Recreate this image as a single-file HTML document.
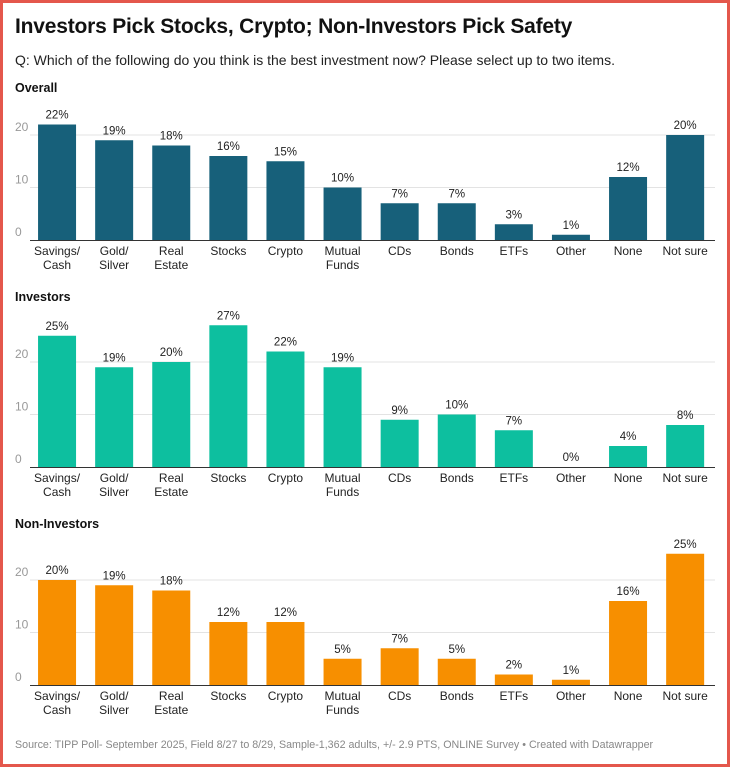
<!DOCTYPE html>
<html><head><meta charset="utf-8"><style>
body{margin:0;background:#fff;font-family:"Liberation Sans",Arial,sans-serif}
#frame{position:absolute;left:0;top:0;width:724px;height:761px;border:3px solid #e4574c;background:#fff}
.t{position:absolute;white-space:nowrap}
</style></head><body>
<div id="frame"></div>
<div class="t" style="left:15px;top:15px;font-size:21px;font-weight:bold;color:#111;letter-spacing:-0.2px">Investors Pick Stocks, Crypto; Non-Investors Pick Safety</div>
<div class="t" style="left:15px;top:52px;font-size:14px;color:#222">Q: Which of the following do you think is the best investment now? Please select up to two items.</div>
<div class="t" style="left:15px;top:739px;font-size:10.7px;color:#888">Source: TIPP Poll- September 2025, Field 8/27 to 8/29, Sample-1,362 adults, +/- 2.9 PTS, ONLINE Survey • Created with Datawrapper</div>
<svg id="chart" width="730" height="767" style="position:absolute;left:0;top:0"></svg>
<script>
const categories=["Savings/\nCash","Gold/\nSilver","Real\nEstate","Stocks","Crypto","Mutual\nFunds","CDs","Bonds","ETFs","Other","None","Not sure"];
const overallValues=[22,19,18,16,15,10,7,7,3,1,12,20];
const investorValues=[25,19,20,27,22,19,9,10,7,0,4,8];
const nonInvestorValues=[20,19,18,12,12,5,7,5,2,1,16,25];
const tickValues=[0,10,20];
const panels=[
 {title:"Overall",vals:overallValues,base:240,ty:92,color:"#17607a",name:"overall"},
 {title:"Investors",vals:investorValues,base:467,ty:301,color:"#0dbf9f",name:"investors"},
 {title:"Non-Investors",vals:nonInvestorValues,base:685,ty:528,color:"#f78f00",name:"non-investors"}];
const svg=document.getElementById('chart');const NS="http://www.w3.org/2000/svg";
function mk(tag,at,parent){const e=document.createElementNS(NS,tag);for(const k in at)e.setAttribute(k,at[k]);(parent||svg).appendChild(e);return e;}
const x0=28.5,band=57.1,bw=38;
const xc=i=>x0+band*(i+0.5);
const ys=v=>v*5.25;
panels.forEach(p=>{
 const g=mk('g',{});
 
 
 const tt=mk('text',{x:15,y:p.ty,'font-size':12.5,'font-weight':'bold',fill:'#111'},g);tt.textContent=p.title;
 
 
 tickValues.forEach(t=>{
  const y=p.base-ys(t);
  if(t>0){const l=mk('line',{x1:30,x2:715,y1:y,y2:y,stroke:'#e3e3e3'},g);
   
   }
  const tx=mk('text',{x:15,y:y-4,'font-size':12,fill:'#999'},g);tx.textContent=t;
  
  
 });
 p.vals.forEach((v,i)=>{
  const h=ys(v);
  const r=mk('rect',{x:xc(i)-bw/2,y:p.base-h,width:bw,height:h,fill:p.color},g);
  
  
  const lb=mk('text',{x:xc(i),y:p.base-h-6,'font-size':11.5,fill:'#222','text-anchor':'middle'},g);lb.textContent=v+'%';
  
  
  categories[i].split('\n').forEach((ln,j)=>{
   const c=mk('text',{x:xc(i),y:p.base+15+j*14,'font-size':12,fill:'#222','text-anchor':'middle'},g);c.textContent=ln;
   
   
  });
 });
 const ax=mk('line',{x1:30,x2:715,y1:p.base+0.5,y2:p.base+0.5,stroke:'#333'},g);
 
 
});
</script>
</body></html>
